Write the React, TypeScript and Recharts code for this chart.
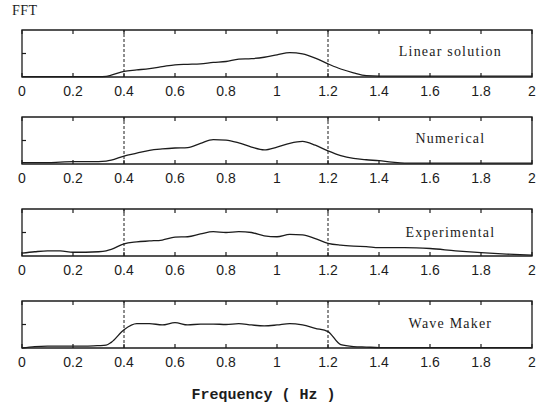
import { LineChart, Line, XAxis, YAxis, ReferenceLine, ReferenceDot, ReferenceArea } from "recharts";

const freqs = [0, 0.05, 0.1, 0.15, 0.2, 0.25, 0.3, 0.33, 0.35, 0.4, 0.45, 0.5, 0.55, 0.6, 0.65, 0.7, 0.75, 0.8, 0.85, 0.9, 0.95, 1.0, 1.05, 1.1, 1.15, 1.2, 1.25, 1.3, 1.35, 1.4, 1.45, 1.5, 1.6, 1.7, 1.8, 1.9, 2.0];

const linearAmp = [0.01, 0.01, 0.01, 0.01, 0.01, 0.01, 0.01, 0.015, 0.04, 0.12, 0.15, 0.18, 0.22, 0.26, 0.27, 0.28, 0.31, 0.33, 0.38, 0.39, 0.42, 0.47, 0.52, 0.49, 0.4, 0.28, 0.17, 0.09, 0.03, 0.02, 0.02, 0.02, 0.02, 0.02, 0.02, 0.02, 0.02];
const numericalAmp = [0.03, 0.03, 0.03, 0.04, 0.05, 0.05, 0.05, 0.06, 0.08, 0.17, 0.23, 0.29, 0.32, 0.34, 0.35, 0.44, 0.52, 0.51, 0.45, 0.36, 0.3, 0.36, 0.44, 0.48, 0.4, 0.28, 0.18, 0.12, 0.09, 0.07, 0.04, 0.02, 0.02, 0.02, 0.02, 0.02, 0.02];
const experimentalAmp = [0.06, 0.09, 0.11, 0.11, 0.08, 0.08, 0.09, 0.11, 0.14, 0.26, 0.3, 0.32, 0.34, 0.4, 0.41, 0.47, 0.52, 0.5, 0.52, 0.5, 0.43, 0.41, 0.46, 0.45, 0.37, 0.27, 0.23, 0.21, 0.2, 0.18, 0.18, 0.18, 0.16, 0.11, 0.07, 0.04, 0.02];
const waveMakerAmp = [0.0, 0.03, 0.04, 0.04, 0.04, 0.04, 0.05, 0.06, 0.12, 0.39, 0.52, 0.52, 0.49, 0.54, 0.49, 0.51, 0.51, 0.5, 0.52, 0.49, 0.47, 0.49, 0.52, 0.49, 0.42, 0.35, 0.07, 0.03, 0.02, 0.01, 0.01, 0.01, 0.01, 0.01, 0.01, 0.01, 0.01];

const panelNames = ["Linear solution", "Numerical", "Experimental", "Wave Maker"];
const panelSeries = [linearAmp, numericalAmp, experimentalAmp, waveMakerAmp];
const labelY = [0.55, 0.55, 0.5, 0.53];

const xTicks = [0, 0.2, 0.4, 0.6, 0.8, 1, 1.2, 1.4, 1.6, 1.8, 2];
const bandEdges = [0.4, 1.2];

const INK = "#1c1c1c";
const panelTops = [30, 117, 209, 301];
const PANEL_H = 47;
const PAD_TOP = 4;
const AXIS_H = 24;

const BottomTick = (props: any) => {
  const { x, y, payload } = props;
  return (
    <g>
      <line x1={x} y1={y} x2={x} y2={y - 4} stroke={INK} strokeWidth={1.2} />
      <text x={x} y={y + 19} textAnchor="middle" fontSize={14} fontFamily="Liberation Sans, Arial, sans-serif" fill={INK}>
        {payload.value}
      </text>
    </g>
  );
};

const TopTick = (props: any) => {
  const { x, y } = props;
  return <line x1={x} y1={y} x2={x} y2={y + 4} stroke={INK} strokeWidth={1.2} />;
};

const LeftTick = (props: any) => {
  const { x, y } = props;
  return <line x1={x} y1={y} x2={x + 4} y2={y} stroke={INK} strokeWidth={1.2} />;
};

const RightTick = (props: any) => {
  const { x, y } = props;
  return <line x1={x} y1={y} x2={x - 4} y2={y} stroke={INK} strokeWidth={1.2} />;
};

function Panel({ idx }: { idx: number }) {
  const values = panelSeries[idx];
  const data = freqs.map((f, i) => ({ f, amp: values[i] }));
  return (
    <div style={{ position: "absolute", left: 0, top: panelTops[idx] - PAD_TOP }}>
      <LineChart
        width={546}
        height={PAD_TOP + PANEL_H + AXIS_H}
        data={data}
        margin={{ top: PAD_TOP - 1, right: 13, left: 21, bottom: 0 }}
      >
        <XAxis
          dataKey="f"
          type="number"
          domain={[0, 2]}
          ticks={xTicks}
          interval={0}
          height={AXIS_H}
          tickSize={0}
          tickMargin={0}
          tickLine={false}
          axisLine={false}
          tick={<BottomTick />}
        />
        <XAxis
          xAxisId="top"
          orientation="top"
          dataKey="f"
          type="number"
          domain={[0, 2]}
          ticks={xTicks}
          interval={0}
          height={1}
          tickSize={0}
          tickMargin={0}
          tickLine={false}
          axisLine={false}
          tick={<TopTick />}
        />
        <YAxis
          type="number"
          domain={[0, 1]}
          ticks={[0.5]}
          width={1}
          tickSize={0}
          tickMargin={0}
          tickLine={false}
          axisLine={false}
          tick={<LeftTick />}
        />
        <YAxis
          yAxisId="r"
          orientation="right"
          type="number"
          domain={[0, 1]}
          ticks={[0.5]}
          width={1}
          tickSize={0}
          tickMargin={0}
          tickLine={false}
          axisLine={false}
          tick={<RightTick />}
        />
        <ReferenceArea
          x1={0}
          x2={2}
          y1={0}
          y2={1}
          fill="none"
          fillOpacity={0}
          stroke={INK}
          strokeWidth={1.3}
          ifOverflow="visible"
        />
        {bandEdges.map((b) => (
          <ReferenceLine key={b} x={b} stroke={INK} strokeWidth={1} strokeDasharray="3 2" />
        ))}
        <ReferenceDot
          x={1.68}
          y={labelY[idx]}
          r={0}
          stroke="none"
          fill="none"
          label={{
            value: panelNames[idx],
            position: "center",
            fill: INK,
            fontSize: 14,
            fontFamily: "Liberation Serif, Times New Roman, serif",
            letterSpacing: 1.2,
          }}
        />
        <Line
          type="monotone"
          dataKey="amp"
          stroke={INK}
          strokeWidth={1.3}
          dot={false}
          isAnimationActive={false}
        />
      </LineChart>
    </div>
  );
}

export default function App() {
  return (
    <div style={{ position: "absolute", left: 0, top: 0, width: 546, height: 411, background: "#fff" }}>
      <div
        style={{
          position: "absolute",
          left: 12,
          top: 3,
          fontFamily: "Liberation Serif, Times New Roman, serif",
          fontSize: 14,
          color: INK,
          letterSpacing: 0.5,
        }}
      >
        FFT
      </div>
      {panelNames.map((_, i) => (
        <Panel key={i} idx={i} />
      ))}
      <div
        style={{
          position: "absolute",
          left: 0,
          width: 527,
          top: 387,
          textAlign: "center",
          fontFamily: "Liberation Mono, Courier New, monospace",
          fontSize: 15,
          fontWeight: "bold",
          color: INK,
        }}
      >
        Frequency ( Hz )
      </div>
    </div>
  );
}
